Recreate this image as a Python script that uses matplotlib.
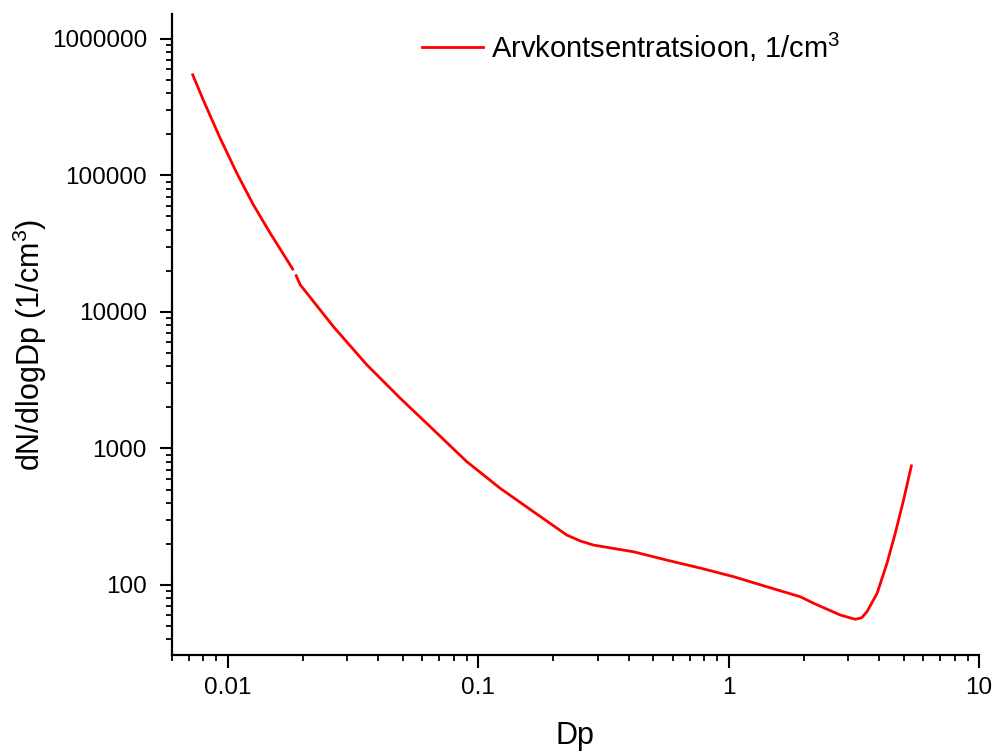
"""Aerosol number size distribution on log-log axes."""
import numpy as np
import matplotlib
matplotlib.use("Agg")
import matplotlib.pyplot as plt
from matplotlib.ticker import FuncFormatter, NullFormatter, LogLocator

plt.rcParams["font.family"] = ["Liberation Sans", "DejaVu Sans"]
plt.rcParams["mathtext.fontset"] = "custom"
plt.rcParams["mathtext.rm"] = "Liberation Sans"
plt.rcParams["mathtext.it"] = "Liberation Sans"

# diameter (um) and dN/dlogDp (1/cm3); NaN = small gap in the line
dp = [0.00726, 0.0080, 0.00933, 0.01088, 0.01268, 0.01479, 0.0182, np.nan,
      0.01879, 0.0195, 0.02646, 0.0360, 0.0489, 0.0664, 0.0902, 0.1225,
      0.1664, 0.2262, 0.256, 0.289, 0.418, 0.568, 0.771, 1.048, 1.423, 1.935,
      2.185, 2.79, 3.05, 3.21, 3.40, 3.57, 3.92, 4.29, 4.63, 5.00, 5.37]
conc = [5.45e5, 3.56e5, 1.88e5, 1.04e5, 6.08e4, 3.78e4, 2.06e4, np.nan,
        1.84e4, 1.58e4, 7800, 4090, 2333, 1368, 800, 511,
        344, 232, 210, 196, 175, 152, 133, 115, 97, 82,
        73.5, 60.3, 57.5, 56.1, 57.5, 63.7, 86.9, 144, 239, 420, 745]

label = r"Arvkontsentratsioon, 1/cm$^{3}$"
ytick_vals = [100, 1000, 10000, 100000, 1000000]
xtick_vals = [0.01, 0.1, 1, 10]

fig = plt.figure(figsize=(9.97, 7.54), dpi=100)
ax = fig.add_axes([172 / 997, 1 - 655 / 754, (979 - 172) / 997, (655 - 14) / 754])

ax.plot(dp, conc, color="#ff0000", linewidth=2.0, label=label)

ax.set_xscale("log")
ax.set_yscale("log")
ax.set_xlim(0.0060, 10)
ax.set_ylim(30.7, 1.52e6)

ax.set_xticks(xtick_vals)
ax.set_yticks(ytick_vals)
ax.xaxis.set_major_formatter(FuncFormatter(lambda v, p: ("%g" % v)))
ax.yaxis.set_major_formatter(FuncFormatter(lambda v, p: "%d" % round(v)))
ax.xaxis.set_minor_locator(LogLocator(base=10, subs=np.arange(2, 10), numticks=20))
ax.yaxis.set_minor_locator(LogLocator(base=10, subs=np.arange(2, 10), numticks=20))
ax.xaxis.set_minor_formatter(NullFormatter())
ax.yaxis.set_minor_formatter(NullFormatter())

for side in ["top", "right"]:
    ax.spines[side].set_visible(False)
for side in ["left", "bottom"]:
    ax.spines[side].set_linewidth(1.6)

ax.tick_params(which="major", direction="out", length=9, width=1.5, labelsize=17.5, pad=7)
ax.tick_params(axis="y", which="major", pad=9)
ax.tick_params(which="minor", direction="out", length=4.5, width=1.3)

# axis titles placed in figure pixels to follow the reference
fig.text(575 / 997, 1 - 744 / 754, "Dp", fontsize=22, ha="center", va="baseline")
fig.text(30 / 997, 1 - 345 / 754, r"dN/dlogDp (1/cm$^{3}$)", rotation=90,
         fontsize=22, ha="center", va="center")

ax.legend(loc="center left", bbox_to_anchor=(422 / 997, 1 - 47 / 754),
          bbox_transform=fig.transFigure, frameon=False, fontsize=21,
          handlelength=2.1, handletextpad=0.25, borderpad=0, borderaxespad=0)

fig.savefig("out.png", dpi=100)
